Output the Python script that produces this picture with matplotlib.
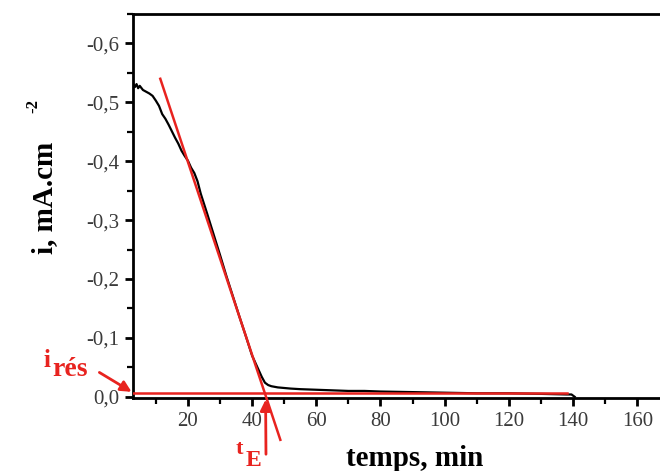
import matplotlib
matplotlib.use("Agg")
import matplotlib.pyplot as plt
from matplotlib.ticker import MultipleLocator, FuncFormatter

# ============================
# Data
# ============================
temps = [2.9, 3.5, 4, 4.5, 5, 6, 7, 8, 9, 10, 11, 12, 13, 14, 15, 16, 17, 18, 19,
         20, 21, 22, 23, 24, 26, 28, 30, 32, 34, 36, 38, 40, 41, 42, 43, 44, 45,
         46, 48, 50, 52, 55, 60, 65, 70, 75, 80, 90, 100, 110, 120, 130, 138,
         139.5, 140.5]
courant = [-0.532, -0.526, -0.531, -0.524, -0.528, -0.521, -0.518, -0.515, -0.511,
           -0.503, -0.494, -0.480, -0.472, -0.462, -0.451, -0.440, -0.430, -0.418,
           -0.409, -0.401, -0.389, -0.380, -0.366, -0.345, -0.311, -0.276, -0.241,
           -0.205, -0.171, -0.137, -0.104, -0.070, -0.058, -0.046, -0.034, -0.024,
           -0.020, -0.018, -0.016, -0.015, -0.014, -0.013, -0.012, -0.011, -0.010,
           -0.010, -0.009, -0.008, -0.007, -0.006, -0.006, -0.005, -0.004, -0.004,
           0.0]

# tangent (fitted decay) and residual current line
tangente_t = [11.4, 48.8]
tangente_i = [-0.540, 0.073]
i_res = -0.006
i_res_t = [2.9, 138]
t_E = 44.2

RED = "#e8231f"
W, H = 660, 471

# ============================
# Figure
# ============================
plt.rcParams["font.family"] = ["Liberation Serif", "DejaVu Serif"]

fig = plt.figure(figsize=(W / 100, H / 100), dpi=100)
ax = fig.add_axes([133 / W, 1 - 398 / H, (175 - 2.9) * 3.21 / W, (398 - 14) / H])

ax.plot(temps, courant, color="black", lw=1.6, zorder=3)
ax.plot(i_res_t, [i_res, i_res], color=RED, lw=1.8, zorder=4)
ax.plot(tangente_t, tangente_i, color=RED, lw=1.8, zorder=4, clip_on=False)

ax.set_xlim(2.9, 175)
ax.set_ylim(0.002, -0.65)

ax.xaxis.set_major_locator(MultipleLocator(20))
ax.xaxis.set_minor_locator(MultipleLocator(10))
ax.yaxis.set_major_locator(MultipleLocator(0.1))
ax.yaxis.set_minor_locator(MultipleLocator(0.05))

def _fmt_y(v, pos):
    if abs(v) < 1e-9:
        return "0,0"
    return f"{v:.1f}".replace(".", ",")

ax.yaxis.set_major_formatter(FuncFormatter(_fmt_y))
ax.xaxis.set_major_formatter(FuncFormatter(lambda v, p: f"{v:.0f}"))

ax.tick_params(which="major", direction="out", length=6, width=2,
               labelsize=15, labelcolor="#3a3a3a", pad=4)
ax.tick_params(which="minor", direction="out", length=4, width=1.6)

for s in ax.spines.values():
    s.set_linewidth(2)

# axis titles placed in figure pixels
fig.text(415 / W, 1 - 466 / H, "temps, min", fontsize=21, fontweight="bold",
         ha="center", va="baseline")
fig.text(45 / W, 1 - 198 / H, "i, mA.cm", fontsize=21, fontweight="bold",
         rotation=90, ha="center", va="center")
fig.text(33 / W, 1 - 106 / H, "-2", fontsize=12, fontweight="bold",
         rotation=90, ha="center", va="center")

# --- annotations ---
fig.text(43 / W, 1 - 367 / H, "i", color=RED, fontsize=18, fontweight="bold")
fig.text(52 / W, 1 - 376 / H, "rés", color=RED, fontsize=20, fontweight="bold")
ax.annotate("", xy=(3.2, i_res), xycoords="data",
            xytext=(97, H - 371), textcoords="figure pixels",
            arrowprops=dict(arrowstyle="-|>", color=RED, lw=2, mutation_scale=16),
            annotation_clip=False)

fig.text(236 / W, 1 - 454 / H, "t", color=RED, fontsize=16, fontweight="bold")
fig.text(246 / W, 1 - 466 / H, "E", color=RED, fontsize=17, fontweight="bold")
ax.annotate("", xy=(t_E, 0.0), xycoords="data",
            xytext=(266, H - 457), textcoords="figure pixels",
            arrowprops=dict(arrowstyle="-|>", color=RED, lw=2, mutation_scale=16),
            annotation_clip=False)

fig.savefig("out.png", dpi=100)
